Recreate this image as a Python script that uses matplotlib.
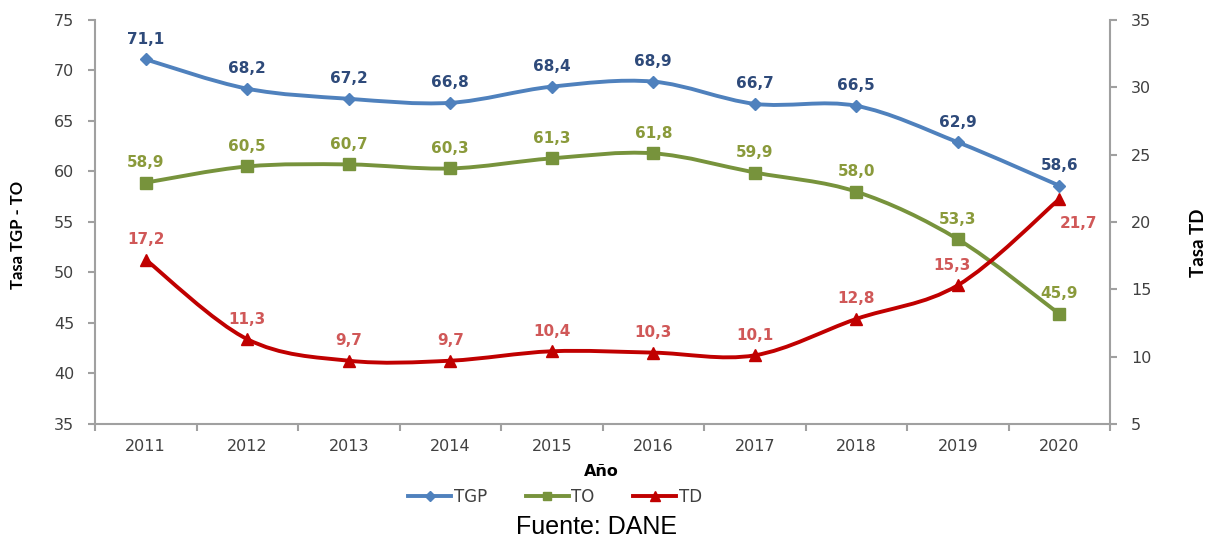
import matplotlib
matplotlib.use("Agg")
import matplotlib.pyplot as plt
from matplotlib.path import Path
from matplotlib.patches import PathPatch
from matplotlib.lines import Line2D
import numpy as np

years = ["2011", "2012", "2013", "2014", "2015", "2016", "2017", "2018", "2019", "2020"]
tgp = [71.1, 68.2, 67.2, 66.8, 68.4, 68.9, 66.7, 66.5, 62.9, 58.6]
to = [58.9, 60.5, 60.7, 60.3, 61.3, 61.8, 59.9, 58.0, 53.3, 45.9]
td = [17.2, 11.3, 9.7, 9.7, 10.4, 10.3, 10.1, 12.8, 15.3, 21.7]

C_TGP = "#4F81BD"
C_TO = "#77933C"
C_TD = "#C00000"
L_TGP = "#2E4A7A"
L_TO = "#8A9A3B"
L_TD = "#D05858"
TICK_C = "#404040"
FONT = "DejaVu Sans"

plt.rcParams["font.family"] = [FONT]

fig = plt.figure(figsize=(12.12, 5.4), dpi=100)
ax = fig.add_axes([95/1212, 116/540, 1015/1212, 404/540])
ax2 = ax.twinx()

x = np.arange(len(years))


def smooth_path(xs, ys):
    pts = np.column_stack([xs, ys]).astype(float)
    n = len(pts)
    verts = [pts[0]]
    codes = [Path.MOVETO]
    for i in range(n - 1):
        p0 = pts[i - 1] if i > 0 else pts[i]
        p1 = pts[i]
        p2 = pts[i + 1]
        p3 = pts[i + 2] if i + 2 < n else pts[i + 1]
        c1 = p1 + (p2 - p0) / 6.0
        c2 = p2 - (p3 - p1) / 6.0
        verts += [c1, c2, p2]
        codes += [Path.CURVE4] * 3
    return Path(verts, codes)


def draw(a, ys, color, marker, ms, lc, offsets, z):
    a.add_patch(PathPatch(smooth_path(x, ys), fill=False, edgecolor=color, lw=2.8, zorder=z, capstyle="round"))
    a.plot(x, ys, linestyle="none", marker=marker, color=color, ms=ms, zorder=z + 1)
    for xi, yi, off in zip(x, ys, offsets):
        a.annotate(f"{yi:.1f}".replace(".", ","), (xi, yi), xytext=off, textcoords="offset points",
                   ha="center", va="bottom", color=lc, fontsize=11, fontweight="bold", zorder=z + 2)


off_up = [(0, 9)] * 10
draw(ax, tgp, C_TGP, "D", 6, L_TGP, off_up, 3)
draw(ax, to, C_TO, "s", 8, L_TO, off_up, 3)
td_off = [(0, 9)] * 8 + [(-4, 9), (14, -23)]
draw(ax2, td, C_TD, "^", 8, L_TD, td_off, 3)

ax.set_xlim(-0.5, len(years) - 0.5)
ax.set_ylim(35, 75)
ax.set_yticks(np.arange(35, 76, 5))
ax2.set_ylim(5, 35)
ax2.set_yticks(np.arange(5, 36, 5))
ax.set_xticks(x)
ax.set_xticklabels(years)
ax.set_xticks(np.arange(-0.5, len(years), 1), minor=True)
ax.tick_params(axis="x", which="major", length=0, pad=11, labelsize=11.5, labelcolor=TICK_C)
ax.tick_params(axis="x", which="minor", length=5, color="#A0A0A0", width=1.5, direction="out")
ax.tick_params(axis="y", length=5, color="#A0A0A0", width=1.5, labelsize=11.5, labelcolor=TICK_C, pad=10)
ax2.tick_params(axis="y", length=5, color="#A0A0A0", width=1.5, labelsize=11.5, labelcolor=TICK_C, pad=10)

for a in (ax, ax2):
    a.spines["top"].set_visible(False)
    for s in ("left", "right", "bottom"):
        a.spines[s].set_color("#A0A0A0")
        a.spines[s].set_linewidth(1.5)
ax.spines["right"].set_visible(False)
ax2.spines["left"].set_visible(False)
ax2.spines["bottom"].set_visible(False)
ax2.patch.set_visible(False)

fig.text(18/1212, 1 - 235/540, "Tasa TGP - TO", rotation=90, ha="center", va="center",
         fontsize=12, fontweight="bold", color="black", family=["Lato", "DejaVu Sans"])
fig.text(1199/1212, 1 - 243/540, "Tasa TD", rotation=90, ha="center", va="center",
         fontsize=13.5, fontweight="bold", color="black", family=["Lato", "DejaVu Sans"])
fig.text(601/1212, 1 - 472/540, "Año", ha="center", va="center", fontsize=11.5, fontweight="bold", color="black")

handles = [
    Line2D([], [], color=C_TGP, lw=2.8, marker="D", ms=5),
    Line2D([], [], color=C_TO, lw=2.8, marker="s", ms=6),
    Line2D([], [], color=C_TD, lw=2.8, marker="^", ms=7),
]
fig.legend(handles, ["TGP", "TO", "TD"], loc="center", bbox_to_anchor=(555/1212, 1 - 497/540),
           ncol=3, frameon=False, fontsize=12, handlelength=2.6, handletextpad=0.15, columnspacing=2.3,
           labelcolor=TICK_C)

fig.text(596/1212, 1 - 527/540, "Fuente: DANE", ha="center", va="center", fontsize=18,
         family=["Liberation Sans", "DejaVu Sans"], color="black")

fig.savefig("out.png", dpi=100)
